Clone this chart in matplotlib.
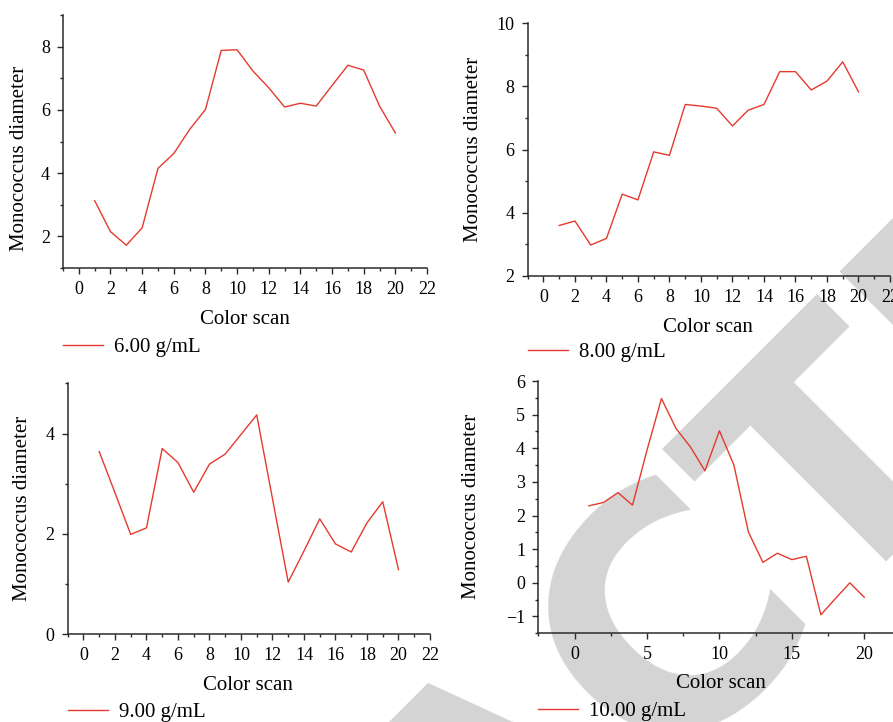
import matplotlib
matplotlib.use("Agg")
import matplotlib.pyplot as plt
from matplotlib.ticker import MultipleLocator

plt.rcParams['font.family'] = ['Liberation Serif', 'DejaVu Serif']
plt.rcParams['axes.unicode_minus'] = True

# data
scan = list(range(1, 21))
d_600 = [3.13, 2.15, 1.72, 2.27, 4.15, 4.62, 5.38, 6.01, 7.88, 7.90,
         7.23, 6.70, 6.09, 6.21, 6.12, 6.77, 7.41, 7.26, 6.12, 5.27]
d_800 = [3.60, 3.74, 2.98, 3.19, 4.59, 4.41, 5.93, 5.82, 7.43, 7.38,
         7.31, 6.75, 7.25, 7.43, 8.47, 8.47, 7.89, 8.17, 8.78, 7.83]
d_900 = [3.64, 2.82, 1.99, 2.12, 3.70, 3.42, 2.83, 3.39, 3.59, 3.98,
         4.37, 2.70, 1.04, 1.66, 2.30, 1.80, 1.64, 2.22, 2.64, 1.29]
d_1000 = [2.29, 2.39, 2.68, 2.31, 3.94, 5.48, 4.59, 4.04, 3.33, 4.52,
          3.50, 1.51, 0.61, 0.88, 0.69, 0.79, -0.95, -0.47, 0.00, -0.43]
series = [d_600, d_800, d_900, d_1000]
names = ['6.00 g/mL', '8.00 g/mL', '9.00 g/mL', '10.00 g/mL']

W, H = 893, 722
RED = '#e53a2f'
AXC = '#2b2b2b'


def rect(l, t, r, b):
    return [l / W, 1 - b / H, (r - l) / W, (b - t) / H]


# panel layout in pixels: axes box, limits, tick steps, label spots
panels = [
    dict(box=(63, 15, 427, 268), xlim=(-1, 22), ylim=(1, 9), xs=(2, 1), ys=(2, 1),
         xl=(245, 320), yl=(20, 158), lg=(63, 347)),
    dict(box=(527.7, 23.3, 890, 276), xlim=(-1, 22), ylim=(2, 10), xs=(2, 1), ys=(2, 1),
         xl=(708, 327), yl=(473, 149), lg=(528, 352)),
    dict(box=(67.7, 383.3, 430, 634.3), xlim=(-1, 22), ylim=(0, 5), xs=(2, 1), ys=(2, 1),
         xl=(248, 686), yl=(23, 508), lg=(68, 712)),
    dict(box=(538.3, 381, 893.3, 633.3), xlim=(-2.5, 22), ylim=(-1.5, 6), xs=(5, 2.5), ys=(1, 0.5),
         xl=(721, 683), yl=(472, 506), lg=(538, 711)),
]

fig = plt.figure(figsize=(W / 100, H / 100), dpi=100)

# retraction watermark behind everything
fig.text(565 / W, 1 - 853 / H, 'RETRACTED', rotation=45, rotation_mode='anchor',
         ha='center', va='baseline', fontsize=235, family='DejaVu Sans',
         weight='bold', color='#d4d4d4', zorder=-1)

for p, vals, name in zip(panels, series, names):
    ax = fig.add_axes(rect(*p['box']))
    ax.patch.set_visible(False)
    line, = ax.plot(scan, vals, color=RED, lw=1.0, label=name)
    ax.set_xlim(*p['xlim'])
    ax.set_ylim(*p['ylim'])
    ax.xaxis.set_major_locator(MultipleLocator(p['xs'][0]))
    ax.xaxis.set_minor_locator(MultipleLocator(p['xs'][1]))
    ax.yaxis.set_major_locator(MultipleLocator(p['ys'][0]))
    ax.yaxis.set_minor_locator(MultipleLocator(p['ys'][1]))
    for s in ['top', 'right']:
        ax.spines[s].set_visible(False)
    for s in ['left', 'bottom']:
        ax.spines[s].set_color(AXC)
        ax.spines[s].set_linewidth(1.1)
    ax.tick_params(which='major', direction='out', length=4.5, width=1.0,
                   color=AXC, labelsize=13, pad=5)
    ax.tick_params(which='minor', direction='out', length=2.5, width=1.0, color=AXC)

    ax.set_xlabel('Color scan', fontsize=15, va='center')
    ax.xaxis.set_label_coords(p['xl'][0] / W, 1 - p['xl'][1] / H, transform=fig.transFigure)
    ax.set_ylabel('Monococcus diameter', fontsize=15, va='center')
    ax.yaxis.set_label_coords(p['yl'][0] / W, 1 - p['yl'][1] / H, transform=fig.transFigure)

    ax.legend(handles=[line], loc='center left',
              bbox_to_anchor=(p['lg'][0] / W, 1 - p['lg'][1] / H),
              bbox_transform=fig.transFigure, frameon=False, borderpad=0,
              borderaxespad=0, handlelength=1.9, handletextpad=0.55, fontsize=15)

fig.savefig('out.png', dpi=100)
